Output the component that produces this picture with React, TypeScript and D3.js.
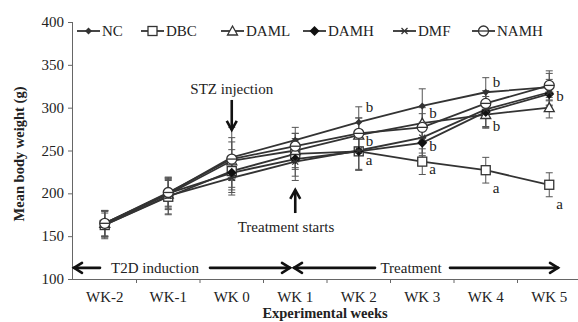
import React from "react";
import * as d3 from "d3";

const weeks = ["WK-2", "WK-1", "WK 0", "WK 1", "WK 2", "WK 3", "WK 4", "WK 5"];
const seriesNames = ["NC", "DBC", "DAML", "DAMH", "DMF", "NAMH"];
const ncValues = [165, 200, 242, 262, 283, 302, 318, 324];
const dbcValues = [163, 196, 226, 246, 249, 237, 227, 210];
const damlValues = [165, 199, 238, 250, 268, 282, 292, 300];
const damhValues = [164, 200, 224, 240, 249, 259, 295, 316];
const dmfValues = [163, 197, 218, 237, 250, 265, 298, 318];
const namhValues = [165, 201, 240, 255, 270, 277, 305, 326];
const ncErr = [15, 15, 35, 15, 18, 20, 17, 16];
const dbcErr = [14, 20, 25, 18, 22, 15, 15, 14];
const damlErr = [15, 18, 22, 20, 20, 18, 16, 12];
const damhErr = [15, 18, 20, 20, 22, 15, 18, 14];
const dmfErr = [16, 22, 20, 22, 22, 18, 20, 15];
const namhErr = [15, 17, 25, 15, 18, 16, 15, 17];
const yTicks = [100, 150, 200, 250, 300, 350, 400];
const letterWeeks = ["WK 2", "WK 2", "WK 2", "WK 3", "WK 3", "WK 3", "WK 4", "WK 4", "WK 4", "WK 5", "WK 5"];
const letterValues = [295, 255, 233, 288, 249, 223, 324, 273, 200, 308, 182];
const letterTexts = ["b", "b", "a", "b", "b", "a", "b", "b", "a", "b", "a"];

const W = 578, H = 322;
const FONT = "'Liberation Serif', 'Times New Roman', serif";
const INK = "#222";
const LINE = "#333";

const x = d3.scaleBand<string>().domain(weeks).range([73, 581]).padding(0);
const cx = (w: string) => (x(w) as number) + x.bandwidth() / 2;
const y = d3.scaleLinear().domain([100, 400]).range([279, 22]);

const allValues = [ncValues, dbcValues, damlValues, damhValues, dmfValues, namhValues];
const allErr = [ncErr, dbcErr, damlErr, damhErr, dmfErr, namhErr];

function Marker({ name, px, py }: { name: string; px: number; py: number }) {
  switch (name) {
    case "NC":
      return <path d={`M${px},${py - 3.5}L${px + 3.5},${py}L${px},${py + 3.5}L${px - 3.5},${py}Z`} fill={LINE} />;
    case "DBC":
      return <rect x={px - 4.5} y={py - 4.5} width={9} height={9} fill="#fff" stroke={LINE} strokeWidth={1.3} />;
    case "DAML":
      return <path d={`M${px},${py - 5}L${px + 5},${py + 4}L${px - 5},${py + 4}Z`} fill="#fff" stroke={LINE} strokeWidth={1.3} />;
    case "DAMH":
      return <path d={`M${px},${py - 5}L${px + 5},${py}L${px},${py + 5}L${px - 5},${py}Z`} fill="#111" />;
    case "DMF":
      return (
        <g stroke={LINE} strokeWidth={1.3}>
          <line x1={px - 3} y1={py - 3} x2={px + 3} y2={py + 3} />
          <line x1={px - 3} y1={py + 3} x2={px + 3} y2={py - 3} />
          <line x1={px - 4} y1={py} x2={px + 4} y2={py} />
        </g>
      );
    case "NAMH":
      return (
        <g>
          <circle cx={px} cy={py} r={5} fill="#fff" stroke={LINE} strokeWidth={1.3} />
          <line x1={px - 5} y1={py} x2={px + 5} y2={py} stroke={LINE} strokeWidth={1.3} />
        </g>
      );
  }
  return null;
}

function HArrow({ x1, x2, yy, dir }: { x1: number; x2: number; yy: number; dir: "l" | "r" }) {
  const tip = dir === "l" ? x1 : x2;
  const s = dir === "l" ? 1 : -1;
  return (
    <g stroke="#111" strokeWidth={2.6} fill="none" strokeLinecap="round">
      <line x1={x1} y1={yy} x2={x2} y2={yy} />
      <path d={`M${tip + s * 8},${yy - 5}L${tip},${yy}L${tip + s * 8},${yy + 5}`} />
    </g>
  );
}

function VArrow({ xx, y1, y2, dir }: { xx: number; y1: number; y2: number; dir: "u" | "d" }) {
  const tip = dir === "u" ? Math.min(y1, y2) : Math.max(y1, y2);
  const s = dir === "u" ? 1 : -1;
  return (
    <g stroke="#111" strokeWidth={2.6} fill="none">
      <line x1={xx} y1={y1} x2={xx} y2={y2} />
      <path d={`M${xx - 5},${tip + s * 9}L${xx},${tip}L${xx + 5},${tip + s * 9}`} />
    </g>
  );
}

export default function App() {
  const line = d3
    .line<number>()
    .x((_, i) => cx(weeks[i]))
    .y((v) => y(v));
  const legendX = [77, 141, 221, 303, 393, 472];
  const legendY = 31;
  const arrowY = y(113);
  return (
    <svg width={W} height={H} style={{ position: "absolute", left: 0, top: 0, background: "#fff" }} fontFamily={FONT}>
      <rect width={W} height={H} fill="#fff" />
      {/* axes */}
      <line x1={72.5} y1={y(400)} x2={72.5} y2={y(100)} stroke="#666" strokeWidth={1} />
      <line x1={72} y1={y(100) + 0.5} x2={W} y2={y(100) + 0.5} stroke="#666" strokeWidth={1} />
      {yTicks.map((t) => (
        <g key={t}>
          <line x1={68} x2={72} y1={y(t) + 0.5} y2={y(t) + 0.5} stroke="#666" />
          <text x={64} y={y(t) + 5} textAnchor="end" fontSize={15} fill={INK}>
            {t}
          </text>
        </g>
      ))}
      {weeks.map((w) => (
        <g key={w}>
          <line x1={(x(w) as number) + x.bandwidth()} x2={(x(w) as number) + x.bandwidth()} y1={y(100)} y2={y(100) + 4} stroke="#666" />
          <text x={cx(w)} y={302} textAnchor="middle" fontSize={15} fill={INK}>
            {w}
          </text>
        </g>
      ))}
      <text x={325} y={318} textAnchor="middle" fontSize={14.5} fontWeight="bold" fill={INK}>
        Experimental weeks
      </text>
      <text transform={`translate(24,154) rotate(-90)`} textAnchor="middle" fontSize={14.5} fontWeight="bold" fill={INK}>
        Mean body weight (g)
      </text>

      {/* lines */}
      {allValues.map((vals, si) => (
        <path key={si} d={line(vals) as string} fill="none" stroke={LINE} strokeWidth={1.8} />
      ))}
      {/* error bars */}
      {allValues.map((vals, si) =>
        vals.map((v, i) => {
          const px = cx(weeks[i]);
          const e = allErr[si][i];
          return (
            <g key={`e${si}-${i}`} stroke="#555" strokeWidth={1}>
              <line x1={px} x2={px} y1={y(v + e)} y2={y(v - e)} />
              <line x1={px - 3.5} x2={px + 3.5} y1={y(v + e)} y2={y(v + e)} />
              <line x1={px - 3.5} x2={px + 3.5} y1={y(v - e)} y2={y(v - e)} />
            </g>
          );
        })
      )}
      {/* markers */}
      {allValues.map((vals, si) =>
        vals.map((v, i) => <Marker key={`m${si}-${i}`} name={seriesNames[si]} px={cx(weeks[i])} py={y(v)} />)
      )}
      {/* letters */}
      {letterTexts.map((t, i) => (
        <text key={`l${i}`} x={cx(letterWeeks[i]) + 7} y={y(letterValues[i])} fontSize={15} fill={INK}>
          {t}
        </text>
      ))}

      {/* legend */}
      {seriesNames.map((n, i) => (
        <g key={n}>
          <line x1={legendX[i]} x2={legendX[i] + 23} y1={legendY} y2={legendY} stroke={LINE} strokeWidth={1.8} />
          <Marker name={n} px={legendX[i] + 11.5} py={legendY} />
          <text x={legendX[i] + 25} y={legendY + 5} fontSize={15} fill={INK}>
            {n}
          </text>
        </g>
      ))}

      {/* annotations */}
      <text x={cx("WK 0")} y={y(316)} textAnchor="middle" fontSize={15} fill={INK}>
        STZ injection
      </text>
      <VArrow xx={cx("WK 0")} y1={y(309)} y2={y(274)} dir="d" />
      <VArrow xx={cx("WK 1")} y1={y(204)} y2={y(177)} dir="u" />
      <text x={286} y={y(155)} textAnchor="middle" fontSize={15} fill={INK}>
        Treatment starts
      </text>

      <HArrow x1={74} x2={100} yy={arrowY} dir="l" />
      <text x={155} y={arrowY + 5} textAnchor="middle" fontSize={15} fill={INK}>
        T2D induction
      </text>
      <HArrow x1={210} x2={290} yy={arrowY} dir="r" />
      <HArrow x1={294} x2={375} yy={arrowY} dir="l" />
      <text x={411} y={arrowY + 5} textAnchor="middle" fontSize={15} fill={INK}>
        Treatment
      </text>
      <HArrow x1={450} x2={558} yy={arrowY} dir="r" />
    </svg>
  );
}
